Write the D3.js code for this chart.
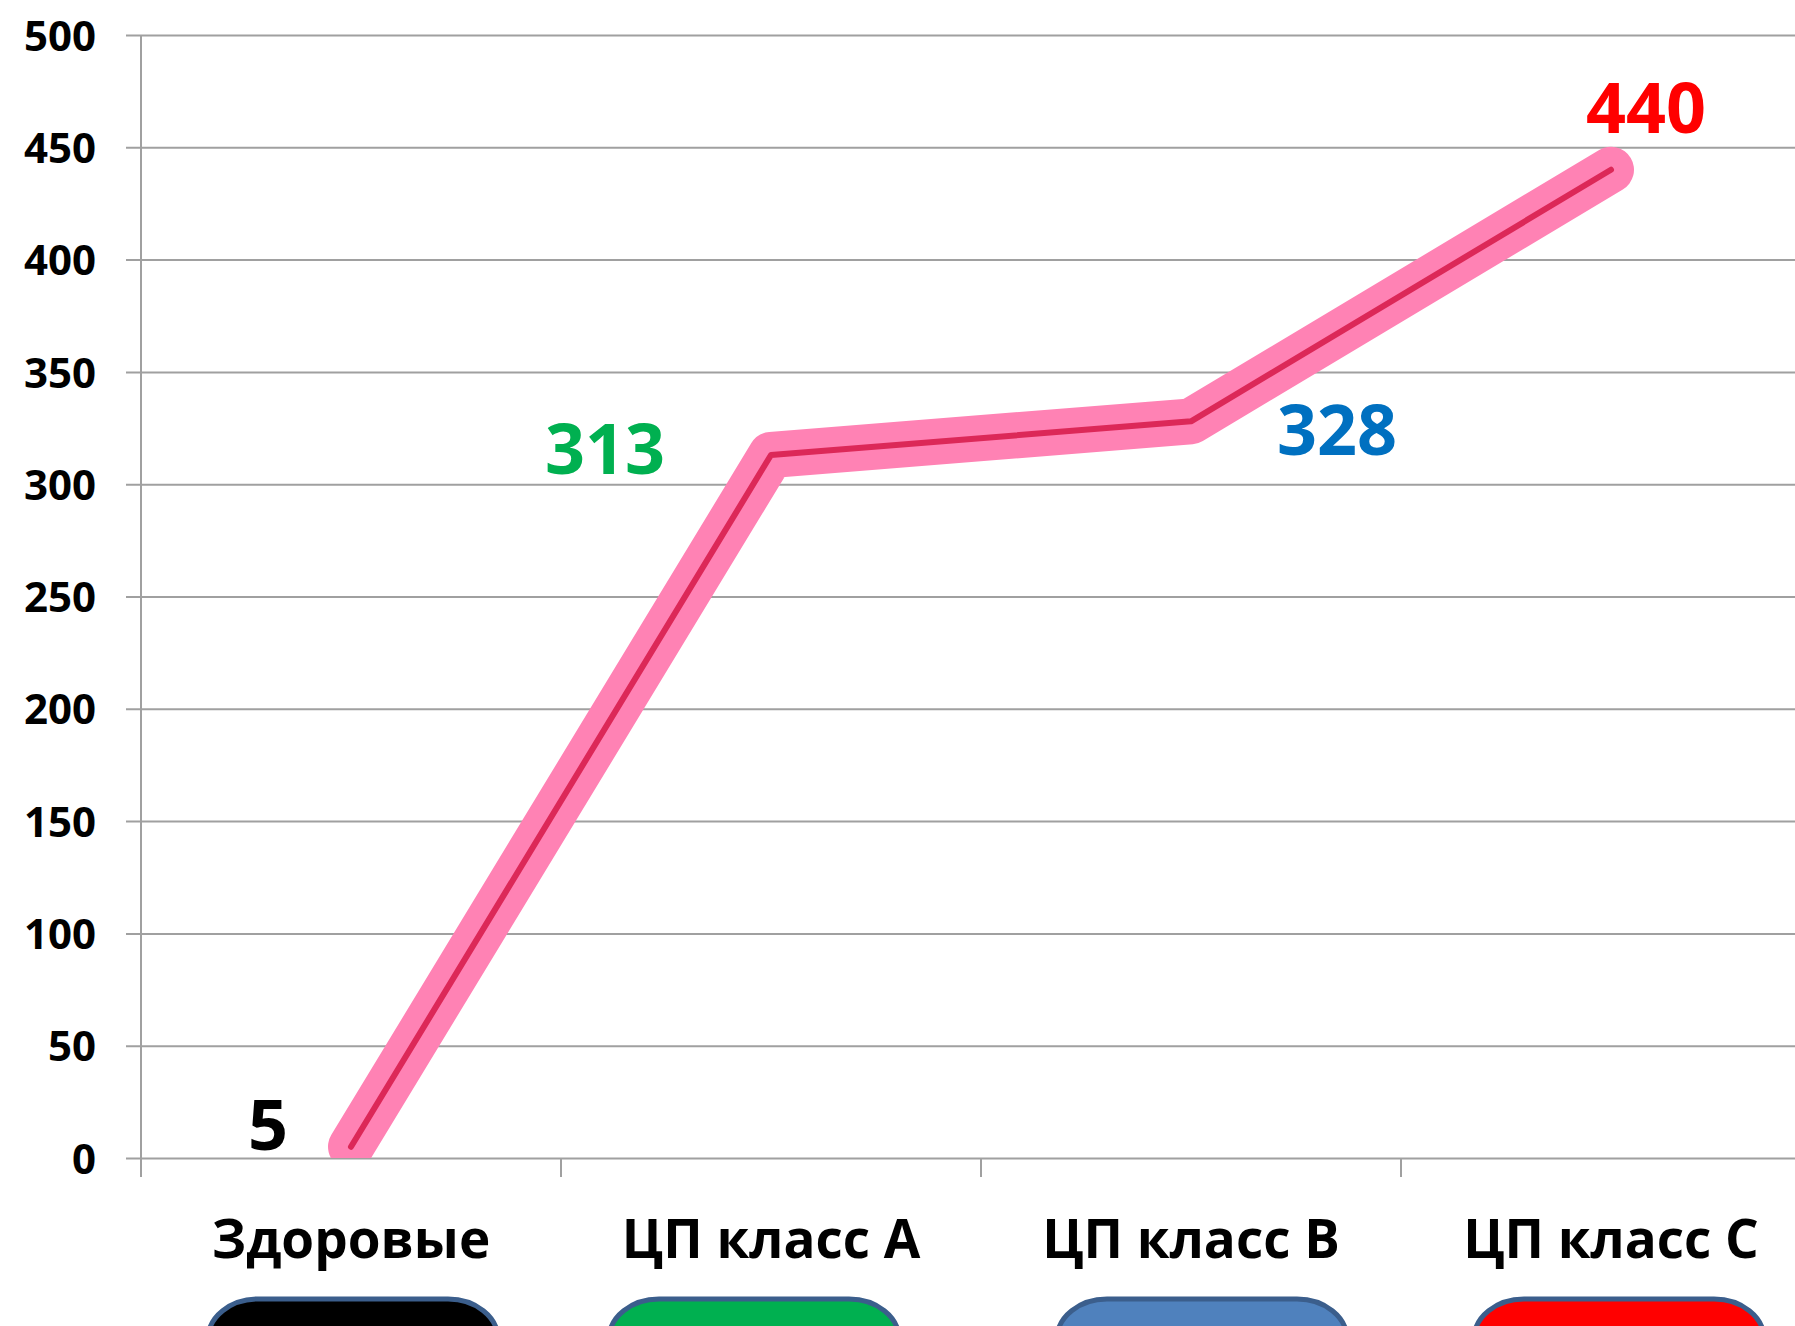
<!DOCTYPE html>
<html>
<head>
<meta charset="utf-8">
<script src="https://cdn.jsdelivr.net/npm/d3@7"></script>
<style>
  html, body { margin: 0; padding: 0; background: #fff; }
  svg { display: block; }
  text { font-family: "Open Sans", "Noto Sans", sans-serif; font-weight: 700; }
</style>
</head>
<body>
<script>
var categories   = ["Здоровые", "ЦП класс А", "ЦП класс В", "ЦП класс С"];
var values       = [5, 313, 328, 440];
var labelColors  = ["#000000", "#00B050", "#0070C0", "#FF0000"];
var legendColors = ["#000000", "#00B050", "#4F81BD", "#FF0000"];
var yTicks       = [0, 50, 100, 150, 200, 250, 300, 350, 400, 450, 500];

var width  = 1795;
var height = 1326;

var svg = d3.select("body")
            .append("svg")
            .attr("width", width)
            .attr("height", height);

// plot area runs past the right edge of the picture, as in the original
var margin = {top: 35, left: 141},
    plotW  = 1680,
    plotH  = 1123;

var x = d3.scaleBand().domain(categories).range([0, plotW]),
    y = d3.scaleLinear().domain([0, 500]).range([plotH, 0]);

var g = svg.append("g")
           .attr("transform", "translate(" + margin.left + "," + margin.top + ")");

g.append("clipPath").attr("id", "plot")
 .append("rect").attr("x", 0).attr("y", 0).attr("width", plotW).attr("height", plotH);

// gridlines + y labels
var yAxis = g.append("g")
             .call(d3.axisLeft(y).tickValues(yTicks).tickSize(-(plotW + 15)).tickPadding(30))
             .attr("transform", "translate(-15,0)");
yAxis.select(".domain").remove();
yAxis.selectAll(".tick line").attr("stroke", "#A0A0A0").attr("stroke-width", 2);
yAxis.selectAll(".tick text")
     .attr("fill", "#000")
     .style("font-size", "42px")
     .attr("dy", "0.36em");

// vertical axis line
g.append("line")
 .attr("x1", 0).attr("x2", 0)
 .attr("y1", 0).attr("y2", plotH + 19)
 .attr("stroke", "#A0A0A0").attr("stroke-width", 2);

// category ticks + labels
var xAxis = g.append("g")
             .attr("transform", "translate(0," + plotH + ")")
             .call(d3.axisBottom(x).tickSize(0).tickPadding(0));
xAxis.select(".domain").remove();
xAxis.selectAll(".tick text")
     .attr("fill", "#000")
     .attr("y", 100)
     .attr("dy", 0)
     .style("font-size", "53px");

g.selectAll(".xtick")
 .data(categories.slice(1))
 .enter().append("line")
 .attr("class", "xtick")
 .attr("x1", function(d) { return x(d); })
 .attr("x2", function(d) { return x(d); })
 .attr("y1", plotH).attr("y2", plotH + 19)
 .attr("stroke", "#A0A0A0").attr("stroke-width", 2);

// line
var pts = categories.map(function(c, i) { return {c: c, v: values[i]}; });
var line = d3.line()
             .x(function(d) { return x(d.c) + x.bandwidth() / 2; })
             .y(function(d) { return y(d.v); });

var lines = g.append("g").attr("clip-path", "url(#plot)");
lines.append("path")
     .datum(pts)
     .attr("d", line)
     .attr("fill", "none")
     .attr("stroke", "#FF82B4")
     .attr("stroke-width", 46)
     .attr("stroke-linejoin", "round")
     .attr("stroke-linecap", "round");
lines.append("path")
     .datum(pts)
     .attr("d", line)
     .attr("fill", "none")
     .attr("stroke", "#DC2858")
     .attr("stroke-width", 6)
     .attr("stroke-linejoin", "round")
     .attr("stroke-linecap", "round");

// value labels (placed by hand in the original)
var labelShift = [[-83, 3], [-166, 19], [146, 34], [35, -37]];
g.selectAll(".val")
 .data(pts)
 .enter().append("text")
 .attr("class", "val")
 .attr("x", function(d, i) { return x(d.c) + x.bandwidth() / 2 + labelShift[i][0]; })
 .attr("y", function(d, i) { return y(d.v) + labelShift[i][1]; })
 .attr("text-anchor", "middle")
 .attr("fill", function(d, i) { return labelColors[i]; })
 .style("font-size", "70px")
 .text(function(d) { return d.v; });

// coloured pills under the categories
var pillShift = [2, -17, 11, 8];
g.selectAll(".pill")
 .data(categories)
 .enter().append("rect")
 .attr("class", "pill")
 .attr("x", function(d, i) { return x(d) + x.bandwidth() / 2 - 145 + pillShift[i]; })
 .attr("y", plotH + 141)
 .attr("width", 290)
 .attr("height", 84)
 .attr("rx", 50)
 .attr("ry", 40)
 .attr("fill", function(d, i) { return legendColors[i]; })
 .attr("stroke", "#3B5E8C")
 .attr("stroke-width", 5);
</script>
</body>
</html>
